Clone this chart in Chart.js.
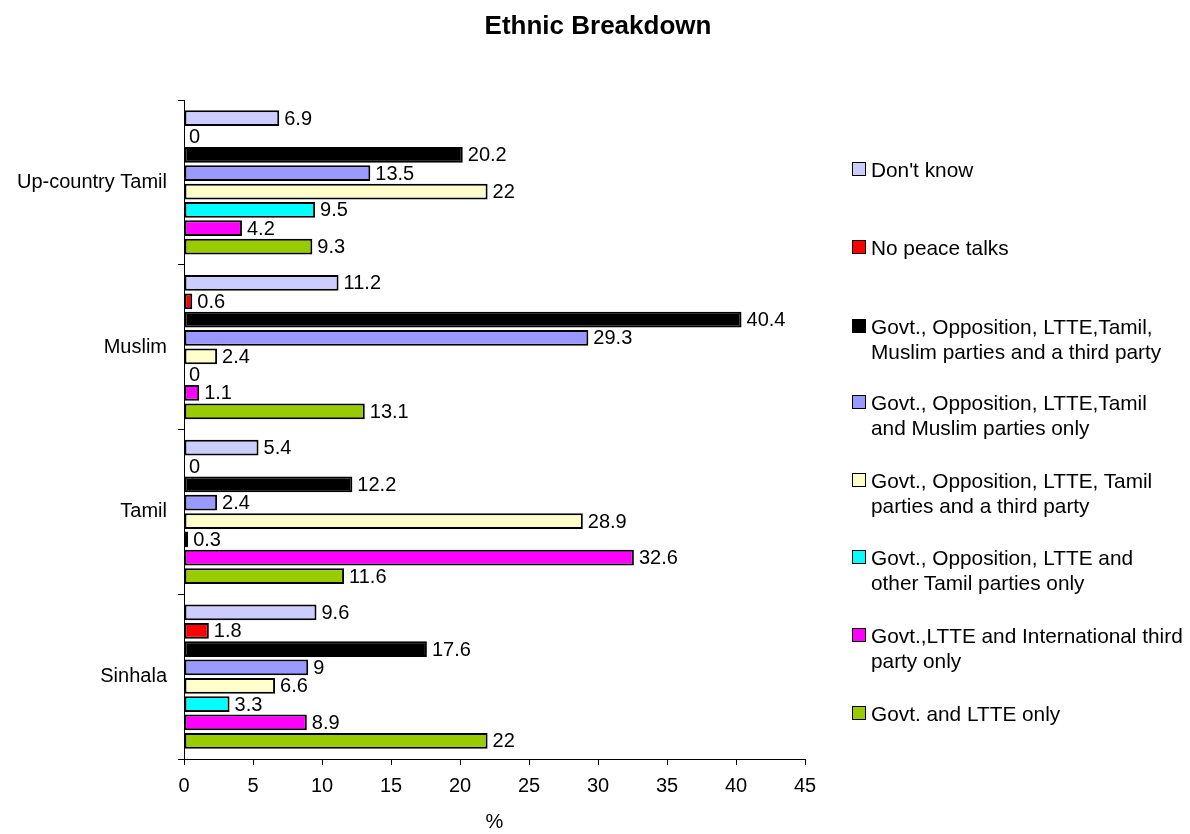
<!DOCTYPE html>
<html>
<head>
<meta charset="utf-8">
<script src="https://cdn.jsdelivr.net/npm/chart.js@4/dist/chart.umd.min.js"></script>
<style>
  html, body { margin: 0; padding: 0; background: #fff; }
  #wrap { position: relative; width: 1190px; height: 834px; }
  #title { position: absolute; left: 0; width: 1196px; top: 9px; text-align: center; font-family: "Liberation Sans", Arial, sans-serif; font-weight: bold; font-size: 26px; line-height: 32px; color: #000; }
  #legend { position: absolute; left: 852px; top: 0; font-family: "Liberation Sans", Arial, sans-serif; font-size: 20.8px; color: #000; }
  .item { position: absolute; left: 0; width: 338px; display: flex; align-items: flex-start; line-height: 25px; white-space: nowrap; }
  .box { width: 12px; height: 12px; border: 1.5px solid #000; margin-top: 5px; margin-right: 5px; flex: none; }
</style>
</head>
<body>
<div id="wrap">
  <canvas id="c" width="1190" height="834"></canvas>
  <div id="title">Ethnic Breakdown</div>
  <div id="legend"></div>
</div>
<script>
const categories = ["Up-country Tamil", "Muslim", "Tamil", "Sinhala"];
const seriesNames = [
  "Don't know",
  "No peace talks",
  "Govt., Opposition, LTTE,Tamil, Muslim parties and a third party",
  "Govt., Opposition, LTTE,Tamil and Muslim parties only",
  "Govt., Opposition, LTTE, Tamil parties and a third party",
  "Govt., Opposition, LTTE and other Tamil parties only",
  "Govt.,LTTE and International third party only",
  "Govt. and LTTE only"
];
const legendLines = [
  ["Don't know"],
  ["No peace talks"],
  ["Govt., Opposition, LTTE,Tamil,", "Muslim parties and a third party"],
  ["Govt., Opposition, LTTE,Tamil", "and Muslim parties only"],
  ["Govt., Opposition, LTTE, Tamil", "parties and a third party"],
  ["Govt., Opposition, LTTE and", "other Tamil parties only"],
  ["Govt.,LTTE and International third", "party only"],
  ["Govt. and LTTE only"]
];
const dontKnow      = [6.9, 11.2, 5.4, 9.6];
const noPeaceTalks  = [0, 0.6, 0, 1.8];
const allParties    = [20.2, 40.4, 12.2, 17.6];
const tamilMuslim   = [13.5, 29.3, 2.4, 9];
const tamilThird    = [22, 2.4, 28.9, 6.6];
const otherTamil    = [9.5, 0, 0.3, 3.3];
const intlThird     = [4.2, 1.1, 32.6, 8.9];
const govtLtte      = [9.3, 13.1, 11.6, 22];
const seriesValues = [dontKnow, noPeaceTalks, allParties, tamilMuslim, tamilThird, otherTamil, intlThird, govtLtte];
const colors = ["#ccccff", "#ff0000", "#000000", "#9999ff", "#ffffcc", "#00ffff", "#ff00ff", "#99cc00"];
const xTicks = [0, 5, 10, 15, 20, 25, 30, 35, 40, 45];

const FONT = "'Liberation Sans', Arial, sans-serif";

const datasets = seriesNames.map((n, i) => ({
  label: n,
  data: seriesValues[i],
  backgroundColor: colors[i],
  borderColor: "#000",
  borderWidth: 2,
  borderSkipped: false,
  categoryPercentage: 0.89,
  barPercentage: 0.86
}));

const valueLabels = {
  id: "valueLabels",
  afterDatasetsDraw(chart) {
    const ctx = chart.ctx;
    ctx.save();
    ctx.font = "20px " + FONT;
    ctx.fillStyle = "#000";
    ctx.textAlign = "left";
    ctx.textBaseline = "middle";
    chart.data.datasets.forEach((ds, i) => {
      const meta = chart.getDatasetMeta(i);
      meta.data.forEach((bar, j) => {
        const v = ds.data[j];
        ctx.fillText(String(v), bar.x + 5, bar.y + 1);
      });
    });
    ctx.restore();
  }
};

new Chart(document.getElementById("c"), {
  type: "bar",
  data: { labels: categories, datasets },
  options: {
    indexAxis: "y",
    responsive: false,
    animation: false,
    layout: { padding: { left: 0, right: 385, top: 100, bottom: 0 } },
    plugins: {
      legend: { display: false },
      tooltip: { enabled: false },
      title: { display: false }
    },
    scales: {
      x: {
        min: 0, max: 45,
        afterBuildTicks(scale) { scale.ticks = xTicks.map(v => ({ value: v })); },
        afterFit(scale) { scale.height = 75; },
        ticks: { color: "#000", font: { family: FONT, size: 20 }, padding: 9, maxRotation: 0 },
        grid: { display: true, drawOnChartArea: false, drawTicks: true, tickLength: 6, color: "#000", lineWidth: 1 },
        border: { display: true, color: "#000", width: 1 },
        title: { display: true, text: "%", color: "#000", font: { family: FONT, size: 20 }, padding: { top: 12, bottom: 0 } }
      },
      y: {
        afterFit(scale) { scale.width = 184; },
        ticks: { color: "#000", font: { family: FONT, size: 20 }, padding: 11 },
        grid: { display: true, offset: true, drawOnChartArea: false, drawTicks: true, tickLength: 6, color: "#000", lineWidth: 1 },
        border: { display: true, color: "#000", width: 1 }
      }
    }
  },
  plugins: [valueLabels]
});

// HTML legend
const legend = document.getElementById("legend");
const legendTop = [157, 235, 314, 390, 468, 545, 623, 701];
legendLines.forEach((lines, i) => {
  const item = document.createElement("div");
  item.className = "item";
  item.style.top = legendTop[i] + "px";
  const box = document.createElement("span");
  box.className = "box";
  box.style.background = colors[i];
  const txt = document.createElement("span");
  txt.innerHTML = lines.join("<br>");
  item.appendChild(box);
  item.appendChild(txt);
  legend.appendChild(item);
});
</script>
</body>
</html>
